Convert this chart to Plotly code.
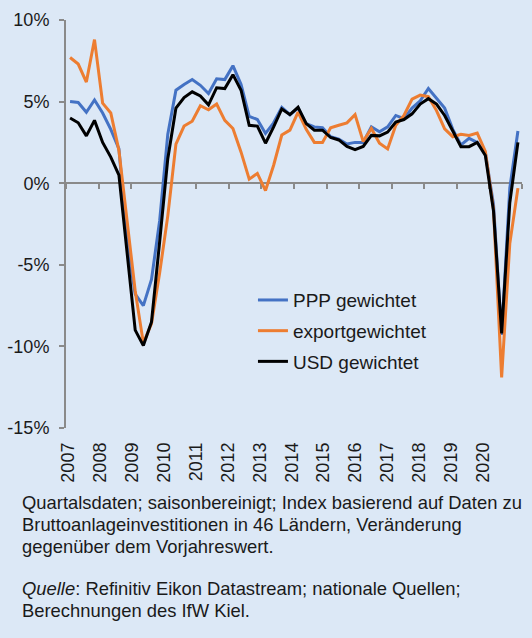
import plotly.graph_objects as go

# ---------------- data ----------------
years = list(range(2007, 2021))
quarters = [f"{y}Q{q}" for y in years for q in range(1, 5)]

ppp = [5.0, 4.95, 4.35, 5.1,
       4.3, 3.3, 2.1, -3.6,
       -6.8, -7.5, -5.9, -2.3,
       3.0, 5.7, 6.05, 6.35,
       6.0, 5.5, 6.4, 6.35,
       7.2, 6.05, 4.1, 3.9,
       3.05, 3.7, 4.65, 4.2,
       4.6, 3.65, 3.45, 3.4,
       2.85, 2.7, 2.4, 2.5,
       2.5, 3.45, 3.15, 3.45,
       4.15, 3.95, 4.6, 5.05,
       5.8, 5.2, 4.6, 3.3,
       2.35, 2.75, 2.5, 1.85,
       -1.3, -9.3, -0.3, 3.2]

export = [7.7, 7.3, 6.2, 8.8,
          4.9, 4.3, 2.0, -2.5,
          -6.6, -9.8, -8.6, -5.5,
          -2.0, 2.4, 3.5, 3.8,
          4.75, 4.5, 4.85, 3.85,
          3.35, 1.9, 0.25, 0.6,
          -0.45, 1.1, 2.95, 3.25,
          4.35, 3.3, 2.5, 2.5,
          3.4, 3.55, 3.7, 4.2,
          2.55, 3.35, 2.45, 2.1,
          3.55, 4.15, 5.15, 5.4,
          5.3, 4.45, 3.33, 2.85,
          3.0, 2.93, 3.07, 1.95,
          -1.6, -11.9, -3.7, -0.3]

usd = [4.0, 3.7, 2.9, 3.85,
       2.5, 1.6, 0.5, -4.2,
       -9.0, -9.95, -8.5, -3.6,
       1.5, 4.6, 5.25, 5.6,
       5.35, 4.8, 5.85, 5.8,
       6.65, 5.7, 3.55, 3.5,
       2.45, 3.45, 4.55, 4.2,
       4.65, 3.65, 3.25, 3.25,
       2.8, 2.65, 2.25, 2.05,
       2.25, 2.93, 2.9, 3.13,
       3.75, 3.9, 4.25, 4.85,
       5.18, 4.85, 4.15, 3.2,
       2.24, 2.24, 2.5, 1.7,
       -1.7, -9.2, -1.2, 2.5]

series_names = ["PPP gewichtet", "exportgewichtet", "USD gewichtet"]
x_tick_labels = [str(y) for y in years]
y_ticks = [-15, -10, -5, 0, 5, 10]
y_tick_labels = [f"{v}%" for v in y_ticks]

note_lines = [
    "Quartalsdaten; saisonbereinigt; Index basierend auf Daten zu",
    "Bruttoanlageinvestitionen in 46 Ländern, Veränderung",
    "gegenüber dem Vorjahreswert.",
    "",
    "<i>Quelle</i>: Refinitiv Eikon Datastream; nationale Quellen;",
    "Berechnungen des IfW Kiel.",
]

# ---------------- figure ----------------
BG = "rgb(220,232,246)"
GREY = "#8a8a8a"
TXT = "#1a1a1a"
FONT = "Liberation Sans, Arial, sans-serif"

# quarter positions (centre of each quarter on a continuous year axis)
x = [int(q[:4]) + (int(q[-1]) - 0.5) / 4 for q in quarters]

colors = ["#4472C4", "#ED7D31", "#000000"]
axes = ["x", "x", "x2"]
fig = go.Figure()
for name, vals, col, ax in zip(series_names, [ppp, export, usd], colors, axes):
    fig.add_trace(go.Scatter(x=x, y=vals, mode="lines", name=name,
                             legendgroup=name, xaxis=ax, yaxis="y",
                             line=dict(color=col, width=3)))

x_range = [years[0], years[-1] + 1]
label_pos = [y + 0.07 - 0.02 * (y - years[0]) for y in years]

fig.update_layout(
    width=532, height=638,
    margin=dict(l=66, r=10, t=20, b=210, autoexpand=False),
    paper_bgcolor=BG, plot_bgcolor=BG,
    font=dict(family=FONT, size=18, color=TXT),
    showlegend=True,
    legend=dict(x=0.41, y=0.36, xanchor="left", yanchor="top",
                bgcolor="rgba(0,0,0,0)", tracegroupgap=3,
                font=dict(family=FONT, size=19, color=TXT)),
    # bottom axis: year labels only
    xaxis=dict(range=x_range, anchor="y", side="bottom", automargin=False,
               showline=False, ticks="", tickvals=label_pos,
               ticktext=x_tick_labels, tickangle=-90,
               tickfont=dict(family=FONT, size=18, color=TXT),
               ticklabelstandoff=10,
               showgrid=False, zeroline=False),
    # axis line drawn through y = 0
    xaxis2=dict(range=x_range, overlaying="x", anchor="free", position=0.6,
                automargin=False,
                showline=True, linecolor=GREY, linewidth=2,
                ticks="outside", ticklen=5, tickwidth=2, tickcolor=GREY,
                tickvals=years + [years[-1] + 1], showticklabels=False,
                showgrid=False, zeroline=False, layer="below traces"),
    yaxis=dict(range=[-15, 10], automargin=False,
               showline=True, linecolor=GREY, linewidth=2,
               ticks="outside", ticklen=5, tickwidth=2, tickcolor=GREY,
               tickvals=y_ticks, ticktext=y_tick_labels,
               tickfont=dict(family=FONT, size=18, color=TXT),
               ticklabelstandoff=6,
               showgrid=False, zeroline=False),
)

# footnote lines (pixel centres converted to paper coordinates)
line_centres = [502, 524.5, 546.5, 566, 588, 610]
for txt, yc in zip(note_lines, line_centres):
    if not txt:
        continue
    fig.add_annotation(
        text=txt, xref="paper", yref="paper",
        x=(20 - 66) / 456, y=(428 - yc) / 408,
        xanchor="left", yanchor="middle", align="left",
        showarrow=False,
        font=dict(family=FONT, size=18.4, color=TXT),
    )

fig.write_html(
    "out.html",
    config={"displayModeBar": False},
    post_script=f"document.body.style.margin='0';document.body.style.background='{BG}';",
)
